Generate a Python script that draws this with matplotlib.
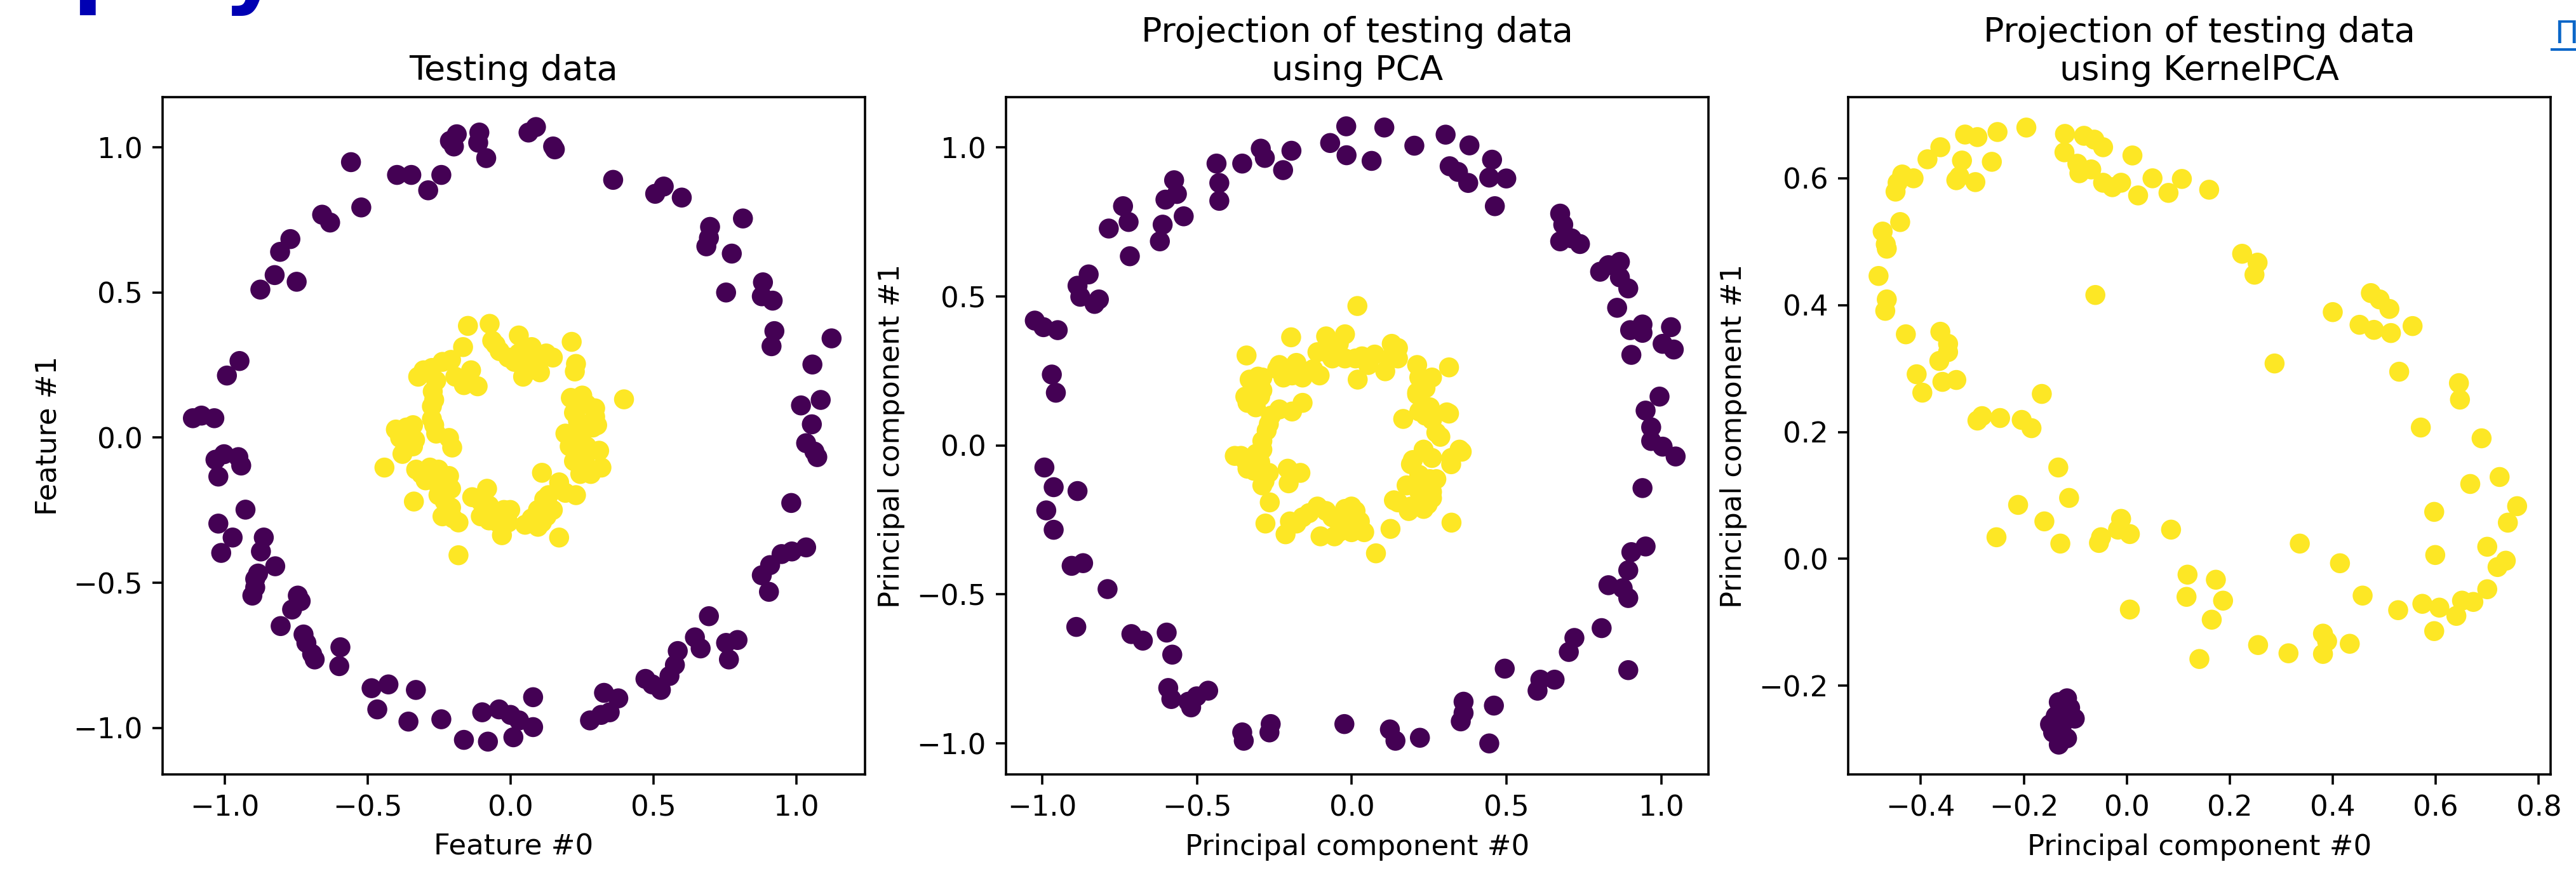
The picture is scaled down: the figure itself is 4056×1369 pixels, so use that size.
import numpy as np
import matplotlib
matplotlib.use("Agg")
import matplotlib.pyplot as plt

# points
# panel 1: testing data (outer ring = class 0, inner ring = class 1)
test_outer = [
    (-0.558, 0.949), (-0.522, 0.793), (-0.659, 0.768), (-0.631, 0.741), (-0.770, 0.684),
    (-0.806, 0.640), (-0.825, 0.560), (-0.875, 0.510), (-0.748, 0.537), (-0.397, 0.905),
    (-0.347, 0.905), (-0.288, 0.852), (-0.242, 0.905), (-0.212, 1.022), (-0.188, 1.045),
    (-0.198, 1.003), (-0.109, 1.051), (-0.113, 1.016), (-0.085, 0.963), (0.063, 1.051),
    (0.089, 1.070), (0.149, 1.003), (0.155, 0.993), (0.359, 0.888), (0.506, 0.840),
    (0.536, 0.865), (0.599, 0.827), (0.698, 0.726), (0.694, 0.688), (0.685, 0.659),
    (0.813, 0.755), (0.774, 0.634), (0.754, 0.500), (0.883, 0.535), (0.879, 0.487),
    (0.917, 0.472), (0.923, 0.367), (0.913, 0.315), (1.123, 0.342), (1.056, 0.252),
    (1.016, 0.111), (1.085, 0.130), (1.054, 0.046), (1.034, -0.019), (1.063, -0.048),
    (1.073, -0.067), (0.982, -0.225), (1.034, -0.378), (0.984, -0.392), (0.948, -0.401),
    (0.908, -0.439), (0.879, -0.474), (0.904, -0.531), (0.694, -0.615), (0.645, -0.688),
    (0.665, -0.726), (0.585, -0.735), (0.575, -0.783), (0.556, -0.821), (0.526, -0.869),
    (0.496, -0.850), (0.472, -0.831), (0.754, -0.707), (0.794, -0.697), (0.764, -0.764),
    (0.327, -0.879), (0.377, -0.898), (0.347, -0.946), (0.278, -0.974), (0.317, -0.955),
    (0.079, -0.894), (-0.040, -0.936), (0.000, -0.955), (0.030, -0.974), (0.079, -0.997),
    (-0.099, -0.946), (0.010, -1.032), (-0.079, -1.047), (-0.163, -1.041), (-0.242, -0.970),
    (-0.357, -0.978), (-0.331, -0.869), (-0.427, -0.850), (-0.486, -0.863), (-0.466, -0.936),
    (-0.595, -0.722), (-0.599, -0.787), (-0.694, -0.745), (-0.714, -0.707), (-0.685, -0.764),
    (-0.724, -0.678), (-0.804, -0.649), (-0.764, -0.592), (-0.744, -0.544), (-0.734, -0.563),
    (-0.903, -0.544), (-0.893, -0.487), (-0.883, -0.468), (-0.893, -0.516), (-0.823, -0.443),
    (-0.863, -0.344), (-0.873, -0.392), (-0.972, -0.344), (-1.012, -0.397), (-1.022, -0.296),
    (-0.927, -0.248), (-1.022, -0.134), (-1.032, -0.076), (-1.002, -0.057), (-0.952, -0.067),
    (-0.942, -0.096), (-1.111, 0.067), (-1.081, 0.076), (-1.036, 0.067), (-0.992, 0.214),
    (-0.948, 0.264),
]
test_inner = [
    (-0.149, 0.385), (-0.073, 0.392), (-0.064, 0.334), (-0.166, 0.312), (0.029, 0.352),
    (0.074, 0.312), (-0.038, 0.298), (-0.008, 0.276), (0.014, 0.261), (0.066, 0.232),
    (0.103, 0.225), (0.148, 0.276), (0.214, 0.330), (0.225, 0.228), (-0.208, 0.268),
    (-0.275, 0.240), (-0.323, 0.210), (-0.138, 0.232), (-0.115, 0.177), (-0.163, 0.181),
    (-0.272, 0.159), (-0.275, 0.108), (-0.275, 0.064), (0.397, 0.132), (0.211, 0.137),
    (0.266, 0.115), (0.296, 0.072), (0.236, 0.057), (0.288, 0.035), (-0.364, 0.035),
    (-0.341, 0.043), (-0.386, -0.001), (-0.334, -0.008), (-0.378, -0.056), (-0.260, 0.014),
    (-0.215, -0.001), (-0.204, -0.034), (-0.441, -0.103), (0.192, 0.014), (0.207, -0.030),
    (0.310, -0.045), (0.318, -0.103), (0.259, -0.074), (0.244, -0.125), (0.110, -0.121),
    (0.170, -0.154), (0.229, -0.198), (-0.330, -0.110), (-0.282, -0.103), (-0.297, -0.147),
    (-0.215, -0.132), (-0.208, -0.176), (-0.338, -0.220), (-0.230, -0.220), (-0.238, -0.271),
    (-0.182, -0.292), (-0.082, -0.176), (-0.104, -0.271), (-0.134, -0.205), (-0.023, -0.249),
    (-0.008, -0.292), (-0.030, -0.336), (0.051, -0.300), (0.096, -0.307), (0.118, -0.212),
    (0.148, -0.249), (0.170, -0.344), (-0.182, -0.405), (0.126, -0.271), (-0.075, -0.234),
    (0.251, 0.145), (0.296, 0.101), (0.303, 0.043), (0.222, 0.086), (0.259, 0.028),
    (0.214, -0.001), (0.266, -0.030), (0.222, -0.081), (0.281, -0.125), (-0.304, 0.232),
    (-0.238, 0.261), (-0.193, 0.210), (-0.260, 0.196), (-0.267, 0.130), (-0.267, 0.043),
    (-0.356, 0.006), (-0.401, 0.028), (-0.341, -0.030), (-0.252, -0.110), (-0.312, -0.125),
    (-0.260, -0.154), (-0.252, -0.198), (-0.208, -0.241), (-0.201, -0.278), (-0.075, -0.285),
    (-0.104, -0.220), (-0.001, -0.249), (-0.045, -0.292), (0.096, -0.249), (0.133, -0.198),
    (0.192, -0.190), (0.110, -0.292), (0.074, -0.278), (-0.052, 0.320), (0.029, 0.290),
    (0.081, 0.276), (0.125, 0.290), (0.044, 0.210), (0.096, 0.239), (0.229, 0.254),
]

# panel 2: PCA projection
pca_outer = [
    (-1.024, 0.419), (-0.996, 0.397), (-0.950, 0.387), (-0.969, 0.238), (-0.956, 0.177),
    (-0.886, 0.536), (-0.850, 0.574), (-0.877, 0.499), (-0.817, 0.490), (-0.831, 0.475),
    (-0.785, 0.728), (-0.739, 0.803), (-0.721, 0.750), (-0.717, 0.635), (-0.620, 0.685),
    (-0.611, 0.741), (-0.602, 0.825), (-0.574, 0.890), (-0.565, 0.844), (-0.543, 0.769),
    (-0.437, 0.946), (-0.428, 0.881), (-0.428, 0.821), (-0.354, 0.946), (-0.294, 0.996),
    (-0.281, 0.965), (-0.195, 0.989), (-0.222, 0.924), (-0.070, 1.015), (-0.018, 1.071),
    (-0.017, 0.974), (0.064, 0.955), (0.105, 1.067), (0.202, 1.006), (0.303, 1.043),
    (0.316, 0.937), (0.343, 0.918), (0.376, 0.881), (0.380, 1.007), (0.453, 0.959),
    (0.444, 0.899), (0.499, 0.896), (0.462, 0.803), (0.673, 0.778), (0.683, 0.741),
    (0.673, 0.685), (0.710, 0.695), (0.737, 0.676), (0.802, 0.583), (0.829, 0.605),
    (0.866, 0.616), (0.866, 0.564), (0.893, 0.527), (0.857, 0.462), (0.899, 0.387),
    (0.939, 0.406), (0.939, 0.378), (0.903, 0.304), (1.004, 0.341), (1.031, 0.397),
    (1.040, 0.322), (0.994, 0.164), (0.949, 0.117), (0.967, 0.061), (0.967, 0.015),
    (1.004, -0.004), (1.046, -0.037), (0.939, -0.143), (0.949, -0.339), (0.903, -0.358),
    (0.893, -0.419), (0.829, -0.469), (0.875, -0.479), (0.893, -0.512), (0.807, -0.613),
    (0.893, -0.754), (0.719, -0.646), (0.701, -0.693), (0.494, -0.749), (0.655, -0.786),
    (0.609, -0.786), (0.600, -0.823), (0.361, -0.860), (0.361, -0.898), (0.352, -0.926),
    (0.459, -0.873), (0.444, -1.000), (0.220, -0.981), (0.123, -0.953), (0.141, -0.991),
    (-0.024, -0.935), (-0.262, -0.935), (-0.266, -0.963), (-0.354, -0.963), (-0.349, -0.991),
    (-0.519, -0.879), (-0.528, -0.860), (-0.464, -0.823), (-0.501, -0.842), (-0.593, -0.814),
    (-0.583, -0.851), (-0.598, -0.628), (-0.580, -0.702), (-0.712, -0.633), (-0.675, -0.655),
    (-0.789, -0.482), (-0.905, -0.404), (-0.868, -0.395), (-0.890, -0.609), (-0.993, -0.074),
    (-0.963, -0.140), (-0.987, -0.218), (-0.963, -0.283), (-0.886, -0.153),
]
pca_inner = [
    (0.018, 0.468), (-0.196, 0.363), (-0.340, 0.302), (-0.083, 0.366), (-0.022, 0.373),
    (-0.234, 0.270), (-0.179, 0.277), (-0.193, 0.235), (-0.111, 0.313), (-0.104, 0.235),
    (-0.063, 0.292), (0.019, 0.221), (0.033, 0.299), (0.074, 0.305), (0.129, 0.341),
    (0.108, 0.249), (0.149, 0.292), (0.211, 0.270), (0.314, 0.262), (0.259, 0.228),
    (0.238, 0.192), (0.238, 0.100), (0.307, 0.111), (0.211, 0.171), (0.166, 0.089),
    (-0.303, 0.231), (-0.316, 0.192), (-0.337, 0.143), (-0.296, 0.164), (-0.234, 0.121),
    (-0.159, 0.143), (-0.193, 0.114), (-0.275, 0.050), (-0.289, 0.015), (-0.358, -0.035),
    (-0.309, -0.028), (-0.337, -0.078), (-0.282, -0.120), (-0.265, -0.191), (-0.207, -0.078),
    (-0.166, -0.092), (-0.204, -0.127), (0.286, 0.029), (0.348, -0.014), (0.321, -0.063),
    (0.232, -0.014), (0.191, -0.063), (0.252, -0.113), (0.218, -0.156), (0.259, -0.177),
    (0.149, -0.191), (0.191, -0.205), (0.232, -0.213), (0.322, -0.259), (0.125, -0.280),
    (0.078, -0.362), (-0.279, -0.262), (-0.214, -0.298), (-0.200, -0.255), (-0.138, -0.227),
    (-0.083, -0.220), (-0.022, -0.213), (0.012, -0.220), (-0.101, -0.305), (-0.042, -0.291),
    (0.040, -0.291), (-0.015, -0.255),
    (-0.241, 0.256), (-0.159, 0.228), (-0.221, 0.228), (-0.125, 0.256), (-0.083, 0.313),
    (-0.042, 0.341), (-0.022, 0.292), (0.012, 0.292), (0.053, 0.270), (0.122, 0.292),
    (0.149, 0.327), (0.218, 0.228), (0.211, 0.178), (0.252, 0.128), (0.259, 0.086),
    (0.314, 0.107), (0.218, 0.114), (-0.330, 0.221), (-0.289, 0.185), (-0.344, 0.164),
    (-0.310, 0.128), (-0.289, 0.228), (-0.261, 0.100), (-0.268, 0.072), (-0.289, -0.014),
    (-0.296, -0.056), (-0.378, -0.035), (-0.345, -0.049), (-0.316, -0.085), (-0.268, -0.092),
    (-0.289, -0.134), (0.273, 0.043), (0.355, -0.021), (0.321, -0.042), (0.259, -0.042),
    (0.197, -0.049), (0.218, -0.099), (0.273, -0.113), (0.177, -0.134), (0.259, -0.156),
    (0.136, -0.184), (0.184, -0.220), (0.245, -0.198), (-0.159, -0.241), (-0.111, -0.205),
    (-0.063, -0.241), (-0.001, -0.205), (0.026, -0.255), (-0.056, -0.305), (-0.001, -0.291),
    (-0.179, -0.262),
]

# panel 3: KernelPCA projection
kpca_outer = [
    (-0.132, -0.226), (-0.116, -0.220), (-0.138, -0.248), (-0.121, -0.256), (-0.101, -0.252),
    (-0.143, -0.274), (-0.127, -0.287), (-0.132, -0.293), (-0.149, -0.261), (-0.110, -0.235),
    (-0.127, -0.270), (-0.116, -0.283),
]
kpca_inner = [
    (-0.195, 0.680), (-0.251, 0.673), (-0.314, 0.669), (-0.290, 0.665), (-0.362, 0.649),
    (-0.387, 0.630), (-0.436, 0.606), (-0.445, 0.593), (-0.414, 0.600), (-0.449, 0.579),
    (-0.320, 0.628), (-0.325, 0.603), (-0.331, 0.597), (-0.294, 0.594), (-0.262, 0.626),
    (-0.440, 0.531), (-0.474, 0.516), (-0.468, 0.496), (-0.466, 0.489), (-0.482, 0.446),
    (-0.466, 0.409), (-0.469, 0.391), (-0.429, 0.354), (-0.362, 0.358), (-0.347, 0.339),
    (-0.347, 0.326), (-0.364, 0.312), (-0.408, 0.291), (-0.397, 0.262), (-0.358, 0.279),
    (-0.331, 0.282), (-0.290, 0.218), (-0.281, 0.225), (-0.246, 0.222), (-0.204, 0.219),
    (-0.185, 0.206), (-0.165, 0.260), (-0.120, 0.670), (-0.083, 0.667), (-0.063, 0.661),
    (-0.046, 0.649), (-0.121, 0.641), (-0.096, 0.623), (-0.092, 0.608), (-0.069, 0.614),
    (-0.046, 0.593), (-0.028, 0.586), (-0.011, 0.593), (0.011, 0.636), (0.022, 0.573),
    (0.050, 0.600), (0.081, 0.577), (0.107, 0.599), (0.160, 0.582), (-0.061, 0.416),
    (0.224, 0.481), (0.254, 0.467), (0.248, 0.448), (0.400, 0.389), (0.452, 0.369),
    (0.474, 0.419), (0.491, 0.409), (0.480, 0.361), (0.510, 0.394), (0.513, 0.356),
    (0.555, 0.367), (0.287, 0.308), (0.529, 0.295), (0.645, 0.277), (0.647, 0.251),
    (0.571, 0.207), (0.689, 0.190), (0.724, 0.129), (0.667, 0.118), (0.758, 0.083),
    (0.740, 0.057), (0.597, 0.074), (0.599, 0.006), (0.700, 0.019), (0.736, -0.003),
    (0.720, -0.013), (0.700, -0.048), (0.651, -0.066), (0.673, -0.068), (0.640, -0.090),
    (0.607, -0.077), (0.574, -0.071), (0.597, -0.114), (0.527, -0.081), (0.458, -0.058),
    (0.414, -0.007), (0.336, 0.024), (0.433, -0.134), (0.381, -0.118), (0.389, -0.130),
    (0.381, -0.150), (0.314, -0.149), (0.255, -0.136), (0.141, -0.158), (0.165, -0.096),
    (0.187, -0.066), (0.173, -0.033), (0.118, -0.025), (0.116, -0.060), (0.086, 0.046),
    (0.006, -0.080), (-0.011, 0.063), (0.006, 0.039), (-0.017, 0.046), (-0.050, 0.034),
    (-0.054, 0.025), (-0.133, 0.144), (-0.112, 0.096), (-0.211, 0.085), (-0.160, 0.059),
    (-0.129, 0.024), (-0.253, 0.034),
]

titles = ["Testing data", "Projection of testing data\nusing PCA",
          "Projection of testing data\nusing KernelPCA"]
xlabels = ["Feature #0", "Principal component #0", "Principal component #0"]
ylabels = ["Feature #1", "Principal component #1", "Principal component #1"]
xlims = [(-1.217, 1.240), (-1.117, 1.152), (-0.541, 0.823)]
ylims = [(-1.160, 1.173), (-1.104, 1.169), (-0.340, 0.728)]

k = 1.08  # screenshot scale vs. 300 dpi
plt.rcParams.update({
    "font.size": 10 * k,
    "axes.titlesize": 12 * k,
    "axes.titlepad": 6 * k,
    "axes.labelpad": 4 * k,
    "axes.linewidth": 0.8 * k,
    "xtick.major.size": 3.5 * k, "ytick.major.size": 3.5 * k,
    "xtick.major.width": 0.8 * k, "ytick.major.width": 0.8 * k,
    "xtick.major.pad": 3.5 * k, "ytick.major.pad": 3.5 * k,
})

W, H = 4056, 1369
fig = plt.figure(figsize=(W / 300, H / 300), dpi=300)

lefts = [256, 1584, 2910]
ax_w, top, bottom = 1106, 153, 1220
panels = [(test_outer, test_inner), (pca_outer, pca_inner), (kpca_outer, kpca_inner)]

for i, (outer, inner) in enumerate(panels):
    ax = fig.add_axes([lefts[i] / W, (H - bottom) / H, ax_w / W, (bottom - top) / H])
    pts = np.array(outer + inner)
    labels = np.array([0] * len(outer) + [1] * len(inner))
    ax.scatter(pts[:, 0], pts[:, 1], c=labels, cmap="viridis", s=36 * k * k, linewidths=k)
    ax.set_xlim(*xlims[i])
    ax.set_ylim(*ylims[i])
    ax.set_title(titles[i])
    ax.set_xlabel(xlabels[i])
    ax.set_ylabel(ylabels[i])

# bits of the surrounding web page that show in the screenshot (cut off like in the reference)
fig.text(113 / W, 1 + 6 / H, "p", color="#0000b3", fontsize=34, fontweight="bold", va="baseline")
fig.text(350 / W, 1 + 6 / H, "y", color="#0000b3", fontsize=34, fontweight="bold", va="baseline")
fig.text(4022 / W, 1 - 68 / H, "П", color="#0a66c8", fontsize=12, va="baseline")
fig.add_artist(plt.Line2D([4018 / W, 1.0], [1 - 78 / H, 1 - 78 / H], color="#0a66c8", lw=1.0,
                          transform=fig.transFigure))

fig.savefig("out.png", dpi=300)
